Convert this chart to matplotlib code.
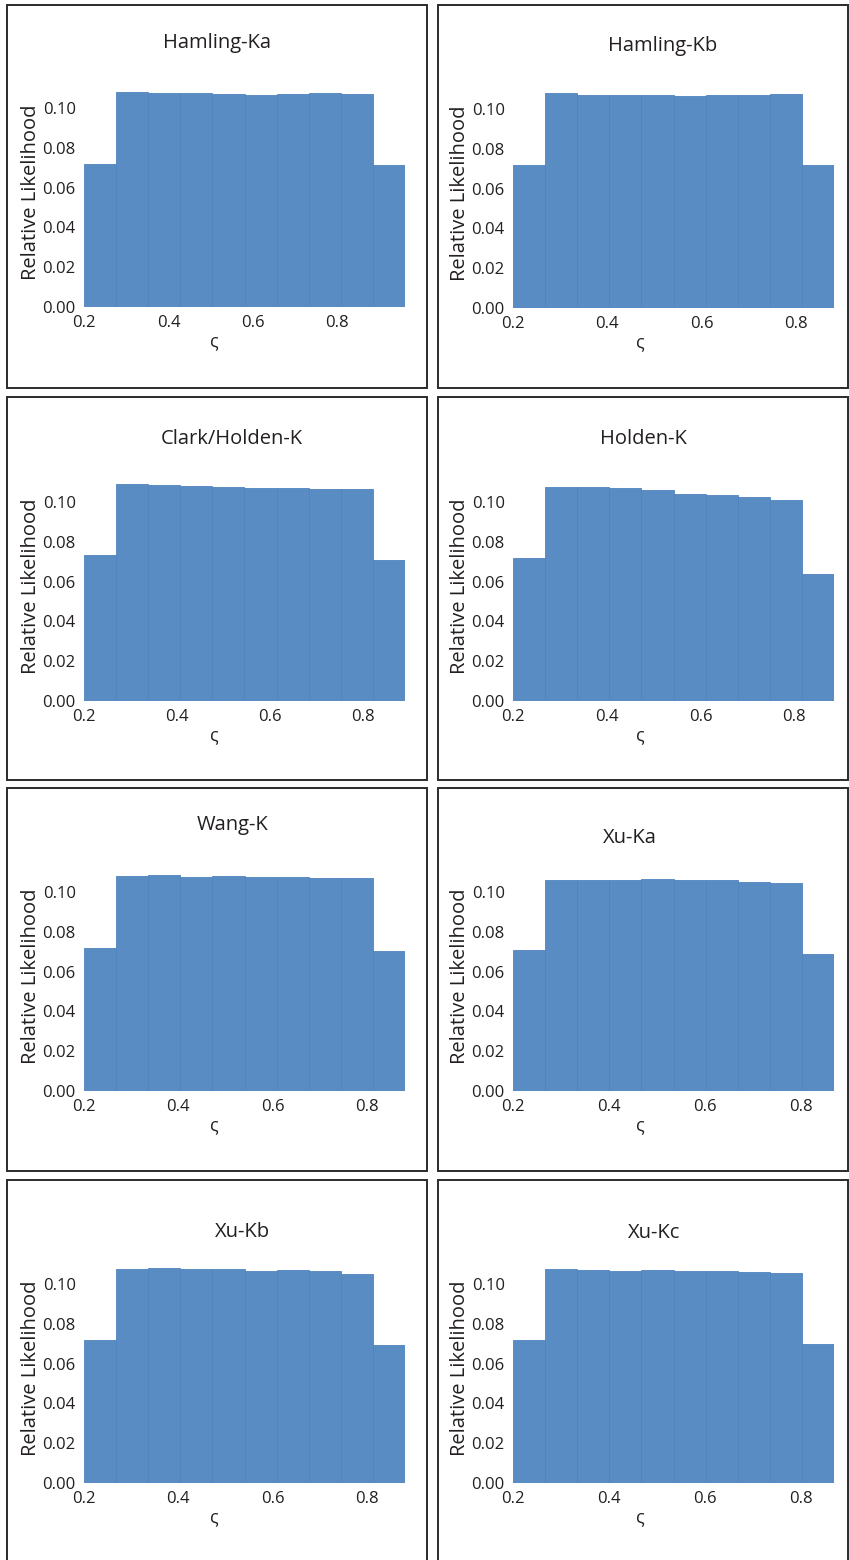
import matplotlib.pyplot as plt
from matplotlib.patches import Rectangle
import numpy as np

plt.rcParams['font.family'] = ['Open Sans', 'DejaVu Sans']

# posterior histograms of zeta, 10 bins each
titles = ["Hamling-Ka", "Hamling-Kb", "Clark/Holden-K", "Holden-K",
          "Wang-K", "Xu-Ka", "Xu-Kb", "Xu-Kc"]

hamling_ka = [0.0719, 0.1079, 0.1077, 0.1076, 0.1071, 0.1066, 0.1069, 0.1074, 0.1072, 0.0716]
hamling_kb = [0.0719, 0.1079, 0.1072, 0.1070, 0.1072, 0.1067, 0.1069, 0.1071, 0.1074, 0.0717]
clark_holden_k = [0.0734, 0.1088, 0.1085, 0.1081, 0.1076, 0.1071, 0.1071, 0.1067, 0.1064, 0.0710]
holden_k = [0.0721, 0.1077, 0.1075, 0.1068, 0.1060, 0.1038, 0.1033, 0.1027, 0.1010, 0.0639]
wang_k = [0.0718, 0.1082, 0.1084, 0.1077, 0.1078, 0.1077, 0.1074, 0.1072, 0.1070, 0.0705]
xu_ka = [0.0707, 0.1061, 0.1060, 0.1061, 0.1063, 0.1060, 0.1058, 0.1051, 0.1045, 0.0688]
xu_kb = [0.0717, 0.1077, 0.1078, 0.1076, 0.1073, 0.1067, 0.1068, 0.1063, 0.1050, 0.0692]
xu_kc = [0.0717, 0.1073, 0.1068, 0.1067, 0.1070, 0.1067, 0.1065, 0.1062, 0.1055, 0.0697]

heights = [hamling_ka, hamling_kb, clark_holden_k, holden_k, wang_k, xu_ka, xu_kb, xu_kc]

# range of zeta covered by the bins in each panel
zeta_lo = [0.2, 0.2, 0.2, 0.2, 0.2, 0.2, 0.2, 0.2]
zeta_hi = [0.96, 0.88, 0.89, 0.885, 0.88, 0.87, 0.88, 0.87]

xticks = [0.2, 0.4, 0.6, 0.8]
yticks = [0.00, 0.02, 0.04, 0.06, 0.08, 0.10]

W, H = 849, 1560
bar_color = '#5a8cc4'
text_color = '#231f20'

# panel frames in pixels (left, top, right, bottom)
col_x = [(7, 427), (438, 848)]
row_y = [(5, 388), (397, 780), (788, 1171), (1180, 1570)]
ax_left_off = [77, 75]
ax_width = 321
base_off = [302, 303, 304, 304, 303, 303, 303, 303]
title_dx = [0, 20, 15, 0, 16, -13, 25, 11]
title_dy = [38, 41, 42, 42, 37, 50, 52, 53]
ymax = 0.115
px_per_unit = 1990


def fx(px):
    return px / W


def fy(py):
    return 1 - py / H


fig = plt.figure(figsize=(W / 100, H / 100), dpi=100)

for i, title in enumerate(titles):
    r, c = divmod(i, 2)
    x0, x1 = col_x[c]
    y0, y1 = row_y[r]
    fig.add_artist(Rectangle((fx(x0), fy(y1)), fx(x1) - fx(x0), fy(y0) - fy(y1),
                             transform=fig.transFigure, fill=False,
                             edgecolor='#2b2b2b', linewidth=1.4))

    base = y0 + base_off[i]
    ax_h = ymax * px_per_unit
    left = x0 + ax_left_off[c]
    ax = fig.add_axes([fx(left), fy(base), ax_width / W, ax_h / H])

    edges = np.linspace(zeta_lo[i], zeta_hi[i], len(heights[i]) + 1)
    ax.bar(edges[:-1], heights[i], width=np.diff(edges), align='edge',
           color=bar_color, edgecolor='#5084bf', linewidth=0.6)
    ax.set_xlim(zeta_lo[i], zeta_hi[i])
    ax.set_ylim(0, ymax)
    ax.set_xticks(xticks)
    ax.set_xticklabels([f"{t:.1f}" for t in xticks])
    ax.set_yticks(yticks)
    ax.set_yticklabels([f"{t:.2f}" for t in yticks])
    ax.tick_params(length=0, labelsize=12, labelcolor=text_color)
    ax.tick_params(axis='x', pad=6)
    ax.tick_params(axis='y', pad=6)
    for s in ax.spines.values():
        s.set_visible(False)
    ax.set_facecolor('none')
    ax.set_ylabel("Relative Likelihood", fontsize=14.5, color=text_color, labelpad=1)

    cx = (x0 + x1) / 2
    fig.text(fx(cx + title_dx[i]), fy(y0 + title_dy[i]), title, ha='center', va='center',
             fontsize=14.5, color=text_color)
    fig.text(fx(cx - 3), fy(base + 34), "ς", ha='center', va='center',
             fontsize=13, color=text_color)

fig.savefig('out.png', dpi=100)
